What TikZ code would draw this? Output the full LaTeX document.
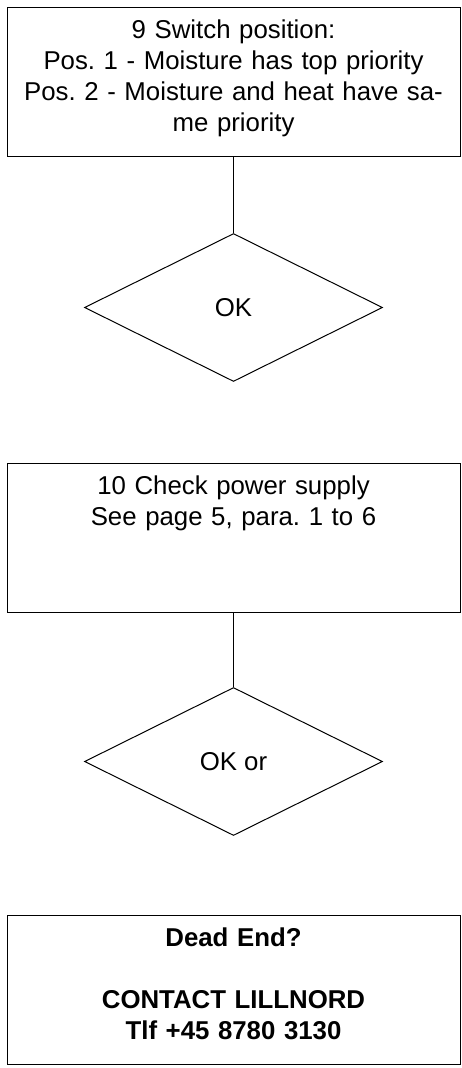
\documentclass[tikz,border=0pt]{standalone}
\usepackage{fontspec}
\setmainfont{Liberation Sans}
\usepackage{tikz}
\usetikzlibrary{shapes.geometric,positioning}
\frenchspacing

\begin{document}
\begin{tikzpicture}[x=1pt, y=-1pt, node distance=76pt,
    block/.style={rectangle, draw, line width=1pt, text width=440pt, align=center, inner xsep=6.5pt, inner ysep=0pt, text height=31pt, text depth=118pt, font=\fontsize{25.8}{31}\selectfont},
    decision/.style={diamond, draw, line width=1pt, minimum width=298pt, minimum height=148pt, inner sep=0pt, font=\fontsize{25.8}{31}\selectfont}]

    \useasboundingbox (0,0) rectangle (461,1068);

    % Switch position
    \node[block, anchor=north] (switch) at (233.5,7) {9 Switch position:\\Pos. 1 - Moisture has top priority\\Pos. 2 - Moisture and heat have sa-\\me priority};
    \node[decision, below=of switch] (ok1) {OK};

    % Power supply
    \node[block, below=81pt of ok1] (power) {10 Check power supply\\See page 5, para. 1 to 6};
    \node[decision, below=74pt of power] (ok2) {OK or};

    % Dead end
    \node[block, below=79pt of ok2, font=\fontsize{25.8}{31}\selectfont\bfseries] (contact) {Dead End?\\[31pt]CONTACT LILLNORD\\Tlf +45 8780 3130};

    % Lines
    \draw[line width=1pt] (switch) -- (ok1);
    \draw[line width=1pt] (power) -- (ok2);

\end{tikzpicture}
\end{document}
